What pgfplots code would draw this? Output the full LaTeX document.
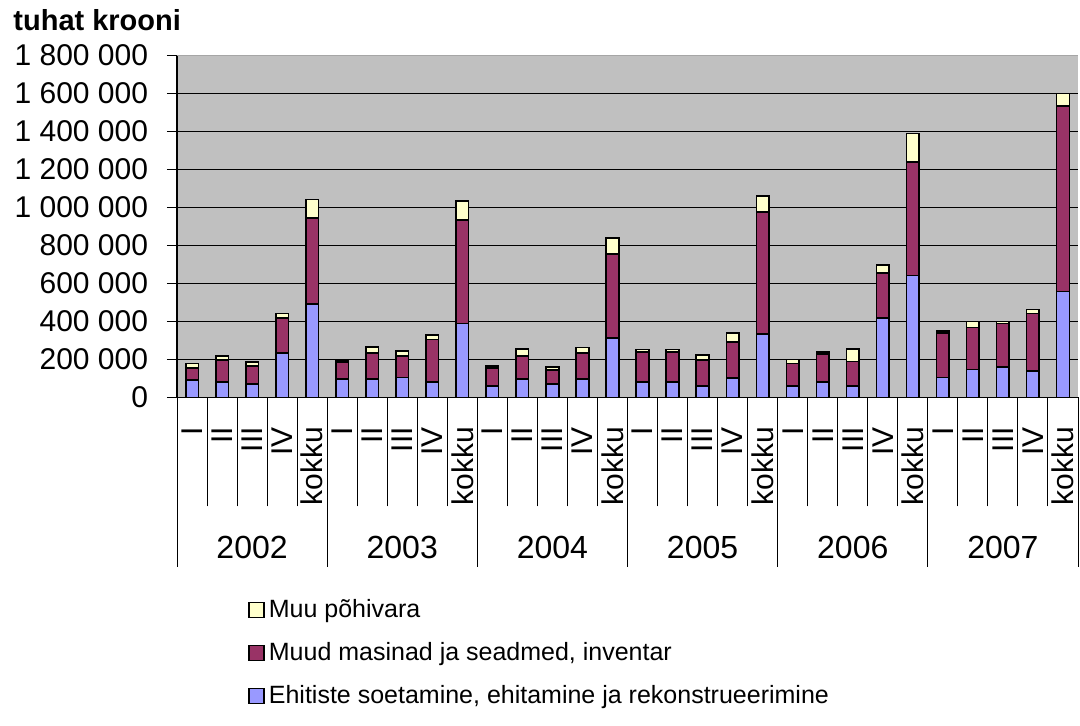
\documentclass[border=0pt]{standalone}
\usepackage{fontspec}
\setmainfont{Liberation Sans}
\usepackage{pgfplots}
\usepackage{pgfplotstable}
\pgfplotsset{compat=1.18}

\definecolor{ehit}{HTML}{9999FF}
\definecolor{masin}{HTML}{993366}
\definecolor{muu}{HTML}{FFFFCC}
\definecolor{plotbg}{HTML}{C0C0C0}

% tuhat krooni; x = 0..29 (I, II, III, IV, kokku for 2002..2007)
\pgfplotstableread{
x  ehit   masin  muu
0  91000  62000  26000
1  82000  114000 23000
2  70000  95000  22000
3  232000 184000 26000
4  491000 453000 98000
5  95000  92000  8000
6  95000  137000 34000
7  105000 112000 27000
8  82000  223000 23000
9  389000 544000 100000
10 60000  93000  12000
11 95000  122000 36000
12 70000  74000  14000
13 95000  137000 31000
14 311000 443000 86000
15 82000  158000 12000
16 82000  158000 12000
17 60000  136000 27000
18 103000 187000 47000
19 333000 641000 87000
20 60000  119000 21000
21 82000  146000 10000
22 60000  128000 65000
23 419000 234000 43000
24 642000 598000 149000
25 105000 232000 12000
26 147000 220000 31000
27 158000 231000 9000
28 139000 303000 21000
29 556000 977000 67000
}\invest

\pgfplotsset{
  mybar/.style={fill=#1, draw=black, line width=0.8pt,
    legend image code/.code={\draw[fill=#1,draw=black,line width=0.75pt] (0pt,-3.75pt) rectangle (7.5pt,3.75pt);}},
}

\begin{document}
\begin{tikzpicture}
\begin{axis}[
    scale only axis,
    width=450.5pt, height=171pt,
    ybar stacked, bar width=0.42,
    xmin=-0.5, xmax=29.5,
    ymin=0, ymax=1800000,
    clip=false,
    scaled y ticks=false,
    axis x line*=bottom, axis y line*=left,
    axis line style={black, line width=0.7pt},
    axis background/.style={fill=plotbg},
    tick align=outside,
    xtick={-0.5,0.5,...,29.5},
    x tick label as interval,
    xticklabels={I,II,III,IV,kokku,I,II,III,IV,kokku,I,II,III,IV,kokku,
                 I,II,III,IV,kokku,I,II,III,IV,kokku,I,II,III,IV,kokku},
    x tick style={black, line width=0.5pt, /pgfplots/major tick length=54.5pt},
    x tick label style={yshift=-10.5pt, rotate=90, anchor=east, inner sep=0pt,
                        font=\fontsize{15}{18}\selectfont},
    ytick={0,200000,400000,600000,800000,1000000,1200000,1400000,1600000},
    yticklabels={0,200 000,400 000,600 000,800 000,1 000 000,1 200 000,1 400 000,1 600 000},
    extra y ticks={1800000},
    extra y tick labels={1 800 000},
    extra y tick style={major grid style={gray!70, line width=0.6pt}},
    ymajorgrids,
    major grid style={black, line width=0.6pt},
    y tick style={black, line width=0.6pt, /pgfplots/major tick length=5pt},
    y tick label style={font=\fontsize{15}{18}\selectfont, inner sep=0pt, anchor=east, xshift=-10pt},
    title={tuhat krooni},
    every axis title shift=0pt,
    title style={at={(axis description cs:-0.182,1.103)}, anchor=west, yshift=0pt, inner sep=0pt,
                 font=\bfseries\fontsize{14.5}{17}\selectfont},
    reverse legend,
    legend cell align=left,
    legend style={at={(axis description cs:0.0788,-0.578)}, anchor=north west,
                  draw=none, fill=none, inner sep=0pt, row sep=7pt,
                  font=\fontsize{12.5}{15}\selectfont},
]
\addplot[mybar=ehit]  table[x=x, y=ehit]  {\invest};
\addplot[mybar=masin] table[x=x, y=masin] {\invest};
\addplot[mybar=muu]   table[x=x, y=muu]   {\invest};
\legend{Ehitiste soetamine{,} ehitamine ja rekonstrueerimine,
        Muud masinad ja seadmed{,} inventar,
        Muu põhivara}

% year group separators and labels
\draw[black, line width=0.5pt] (axis cs:-0.5,0) -- ++(0pt,-85pt);
\draw[black, line width=0.5pt] (axis cs:4.5,0) -- ++(0pt,-85pt);
\draw[black, line width=0.5pt] (axis cs:9.5,0) -- ++(0pt,-85pt);
\draw[black, line width=0.5pt] (axis cs:14.5,0) -- ++(0pt,-85pt);
\draw[black, line width=0.5pt] (axis cs:19.5,0) -- ++(0pt,-85pt);
\draw[black, line width=0.5pt] (axis cs:24.5,0) -- ++(0pt,-85pt);
\draw[black, line width=0.5pt] (axis cs:29.5,0) -- ++(0pt,-85pt);
\node[font=\fontsize{16}{19}\selectfont, yshift=-75.3pt] at (axis cs:2,0) {2002};
\node[font=\fontsize{16}{19}\selectfont, yshift=-75.3pt] at (axis cs:7,0) {2003};
\node[font=\fontsize{16}{19}\selectfont, yshift=-75.3pt] at (axis cs:12,0) {2004};
\node[font=\fontsize{16}{19}\selectfont, yshift=-75.3pt] at (axis cs:17,0) {2005};
\node[font=\fontsize{16}{19}\selectfont, yshift=-75.3pt] at (axis cs:22,0) {2006};
\node[font=\fontsize{16}{19}\selectfont, yshift=-75.3pt] at (axis cs:27,0) {2007};
\end{axis}
\pgfresetboundingbox
\path[use as bounding box] (-88.5pt,198.65pt) rectangle (451.5pt,-163.85pt);
\end{tikzpicture}
\end{document}
